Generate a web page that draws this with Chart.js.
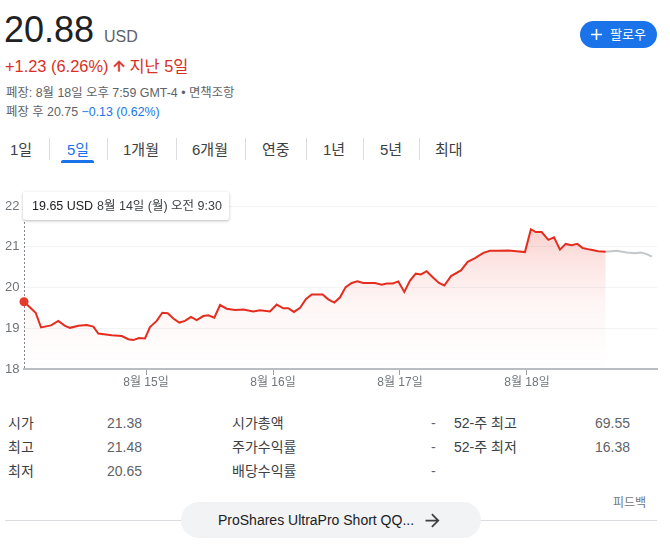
<!DOCTYPE html>
<html>
<head>
    <title>ProShares UltraPro Short QQQ - 5일</title>
    <script src="https://cdn.jsdelivr.net/npm/chart.js"></script>
    <style>
        body {
            margin: 0;
            width: 670px;
            height: 551px;
            position: relative;
            overflow: hidden;
            background: #fff;
            font-family: "Liberation Sans", Arial, "Noto Sans CJK KR", sans-serif;
            color: #202124;
        }
        .abs { position: absolute; white-space: nowrap; }
        .preco { left: 4px; top: 12px; font-size: 36px; line-height: 36px; color: #202124; }
        .moeda { left: 104px; top: 29px; font-size: 16px; line-height: 16px; color: #5f6368; }
        .variacao { left: 5px; top: 58px; font-size: 16.4px; line-height: 16px; color: #d93025; }
        .variacao svg { vertical-align: -2px; margin: 0 2px 0 3px; }
        .info { left: 6px; font-size: 12.4px; line-height: 12px; color: #5f6368; }
        .azul { color: #1a73e8; }
        .seguir {
            left: 580px; top: 21px; width: 77px; height: 27px; border-radius: 14px;
            background: #1a73e8; color: #fff; font-size: 13px; line-height: 27px;
        }
        .seguir svg { position: absolute; left: 7px; top: 4px; }
        .seguir span { position: absolute; left: 30px; top: 0; }
        .aba { top: 142px; font-size: 15px; line-height: 15px; color: #3c4043; }
        .aba.ativa { color: #1a73e8; }
        .sep { top: 138px; width: 1px; height: 22px; background: #dadce0; }
        .sublinhado { left: 61px; top: 160px; width: 33px; height: 3px; border-radius: 2px 2px 0 0; background: #1a73e8; }
        #grafico { position: absolute; left: 0; top: 190px; }
        .dica {
            left: 23px; top: 192px; width: 206px; height: 28px; background: #fff;
            border-radius: 2px; box-shadow: 0 1px 3px rgba(60,64,67,0.35);
            font-size: 12.5px; line-height: 28px;
        }
        .dica b { font-weight: normal; color: #202124; position: absolute; left: 9px; }
        .dica span { color: #3c4043; position: absolute; left: 74px; }
        .tab { font-size: 14px; line-height: 14px; }
        .rot { color: #3c4043; }
        .val { color: #5f6368; }
        .linha { left: 5px; top: 520px; width: 652px; height: 1px; background: #dadce0; }
        .pilula {
            left: 181px; top: 502px; width: 300px; height: 36px; border-radius: 18px;
            background: #f1f3f4; font-size: 14px; line-height: 36px; color: #202124;
        }
        .pilula span { position: absolute; left: 37px; }
        .pilula svg { position: absolute; left: 241px; top: 8px; }
        .feedback { left: 613px; top: 497px; font-size: 12px; line-height: 12px; color: #70757a; }
    </style>
</head>
<body>
    <div class="abs preco">20.88</div>
    <div class="abs moeda">USD</div>
    <div class="abs variacao">+1.23 (6.26%)<svg width="16" height="16" viewBox="0 0 24 24"><path fill="#d93025" stroke="#d93025" stroke-width="1" d="M4 12l1.41 1.41L11 7.83V20h2V7.83l5.58 5.59L20 12l-8-8-8 8z"/></svg>지난 5일</div>
    <div class="abs info" style="top:87px">폐장: 8월 18일 오후 7:59 GMT-4 • 면책조항</div>
    <div class="abs info" style="top:106px">폐장 후 20.75 <span class="azul">−0.13 (0.62%)</span></div>
    <div class="abs seguir"><svg width="19" height="19" viewBox="0 0 24 24"><path fill="#fff" d="M19 13h-6v6h-2v-6H5v-2h6V5h2v6h6v2z"/></svg><span>팔로우</span></div>

    <div class="abs aba" style="left:10px">1일</div>
    <div class="abs sep" style="left:49px"></div>
    <div class="abs aba ativa" style="left:67px">5일</div>
    <div class="abs sep" style="left:107px"></div>
    <div class="abs aba" style="left:123px">1개월</div>
    <div class="abs sep" style="left:176px"></div>
    <div class="abs aba" style="left:192px">6개월</div>
    <div class="abs sep" style="left:245px"></div>
    <div class="abs aba" style="left:262px">연중</div>
    <div class="abs sep" style="left:306px"></div>
    <div class="abs aba" style="left:323px">1년</div>
    <div class="abs sep" style="left:363px"></div>
    <div class="abs aba" style="left:380px">5년</div>
    <div class="abs sep" style="left:419px"></div>
    <div class="abs aba" style="left:435px">최대</div>
    <div class="abs sublinhado"></div>

    <canvas id="grafico" width="670" height="210"></canvas>
    <div class="abs dica"><b>19.65 USD</b><span>8월 14일 (월) 오전 9:30</span></div>

    <div class="abs tab rot" style="left:8px;top:416px">시가</div>
    <div class="abs tab val" style="left:107px;top:416px">21.38</div>
    <div class="abs tab rot" style="left:232px;top:416px">시가총액</div>
    <div class="abs tab val" style="left:431px;top:416px">-</div>
    <div class="abs tab rot" style="left:454px;top:416px">52-주 최고</div>
    <div class="abs tab val" style="right:40px;top:416px">69.55</div>

    <div class="abs tab rot" style="left:8px;top:440px">최고</div>
    <div class="abs tab val" style="left:107px;top:440px">21.48</div>
    <div class="abs tab rot" style="left:232px;top:440px">주가수익률</div>
    <div class="abs tab val" style="left:431px;top:440px">-</div>
    <div class="abs tab rot" style="left:454px;top:440px">52-주 최저</div>
    <div class="abs tab val" style="right:40px;top:440px">16.38</div>

    <div class="abs tab rot" style="left:8px;top:464px">최저</div>
    <div class="abs tab val" style="left:107px;top:464px">20.65</div>
    <div class="abs tab rot" style="left:232px;top:464px">배당수익률</div>
    <div class="abs tab val" style="left:431px;top:464px">-</div>

    <div class="abs feedback">피드백</div>
    <div class="abs linha"></div>
    <div class="abs pilula"><span>ProShares UltraPro Short QQ...</span><svg width="21" height="21" viewBox="0 0 24 24"><path fill="#3c4043" d="M12 4l-1.41 1.41L16.17 11H4v2h12.17l-5.58 5.59L12 20l8-8z"/></svg></div>

    <script>
        // tempo em dias (14.0 = 14 de agosto), preços em USD
        const tempos = [
            14.039, 14.131, 14.173, 14.252, 14.309, 14.362, 14.402, 14.467, 14.533, 14.585,
            14.624, 14.730, 14.809, 14.861, 14.900, 14.945, 14.992, 15.031, 15.084, 15.128,
            15.171, 15.215, 15.262, 15.307, 15.354, 15.399, 15.451, 15.491, 15.538, 15.583,
            15.635, 15.701, 15.766, 15.845, 15.898, 15.976, 16.029, 16.081, 16.120, 16.165,
            16.213, 16.260, 16.305, 16.391, 16.435, 16.483, 16.528, 16.572, 16.620, 16.664,
            16.711, 16.803, 16.856, 16.895, 16.943, 16.987, 17.034, 17.079, 17.124, 17.165,
            17.210, 17.262, 17.307, 17.349, 17.402, 17.480, 17.533, 17.591, 17.656, 17.709,
            17.774, 17.854, 17.919, 17.984, 18.031, 18.069, 18.116, 18.168, 18.213, 18.260,
            18.305, 18.352, 18.396, 18.439, 18.496, 18.561, 18.620
        ];
        const precos = [
            19.65, 19.38, 19.02, 19.07, 19.18, 19.06, 19.01, 19.06, 19.08, 19.04,
            18.87, 18.83, 18.81, 18.73, 18.71, 18.76, 18.75, 19.03, 19.18, 19.38,
            19.37, 19.24, 19.14, 19.18, 19.28, 19.20, 19.30, 19.32, 19.26, 19.57,
            19.48, 19.45, 19.46, 19.41, 19.44, 19.41, 19.58, 19.49, 19.49, 19.40,
            19.50, 19.72, 19.83, 19.83, 19.71, 19.63, 19.76, 20.01, 20.11, 20.15,
            20.11, 20.11, 20.07, 20.10, 20.10, 20.15, 19.89, 20.17, 20.34, 20.32,
            20.40, 20.24, 20.11, 20.05, 20.28, 20.42, 20.63, 20.72, 20.85, 20.90,
            20.90, 20.91, 20.89, 20.87, 21.43, 21.36, 21.36, 21.17, 21.23, 20.93,
            21.07, 21.04, 21.07, 20.97, 20.93, 20.89, 20.88
        ];
        // depois do fechamento (linha cinza)
        const temposApos = [18.620, 18.707, 18.785, 18.845, 18.898, 18.943, 18.983];
        const precosApos = [20.88, 20.90, 20.86, 20.84, 20.86, 20.82, 20.76];

        const diasTicks = [15, 16, 17, 18];
        const diasLabels = ['8월 15일', '8월 16일', '8월 17일', '8월 18일'];
        const precoTicks = [18, 19, 20, 21, 22];

        const fonte = '"Liberation Sans", Arial, "Noto Sans CJK KR", sans-serif';
        Chart.defaults.font.family = fonte;

        const linhaPontilhada = {
            id: 'linhaPontilhada',
            beforeDatasetsDraw(chart) {
                const ctx = chart.ctx;
                const x = Math.round(chart.scales.x.getPixelForValue(tempos[0])) + 0.5;
                ctx.save();
                ctx.strokeStyle = '#80868b';
                ctx.lineWidth = 1;
                ctx.setLineDash([2, 2]);
                ctx.beginPath();
                ctx.moveTo(x, chart.chartArea.top);
                ctx.lineTo(x, chart.chartArea.bottom);
                ctx.stroke();
                ctx.restore();
            }
        };

        const ctx = document.getElementById('grafico').getContext('2d');
        new Chart(ctx, {
            type: 'line',
            data: {
                datasets: [
                    {
                        data: tempos.map((t, i) => ({ x: t, y: precos[i] })),
                        borderColor: '#e52d1f',
                        borderWidth: 2,
                        fill: 'start',
                        backgroundColor: (c) => {
                            const area = c.chart.chartArea;
                            if (!area) return 'rgba(229,45,31,0.1)';
                            const g = c.chart.ctx.createLinearGradient(0, area.top, 0, area.bottom);
                            g.addColorStop(0, 'rgba(229,45,31,0.28)');
                            g.addColorStop(0.35, 'rgba(229,45,31,0.12)');
                            g.addColorStop(0.6, 'rgba(229,45,31,0.045)');
                            g.addColorStop(1, 'rgba(229,45,31,0)');
                            return g;
                        },
                        pointRadius: (c) => c.dataIndex === 0 ? 4.5 : 0,
                        pointBackgroundColor: '#e5392c',
                        pointBorderWidth: 0,
                        tension: 0,
                        clip: false
                    },
                    {
                        data: temposApos.map((t, i) => ({ x: t, y: precosApos[i] })),
                        borderColor: '#c4c7c9',
                        borderWidth: 2,
                        fill: false,
                        pointRadius: 0,
                        tension: 0
                    }
                ]
            },
            options: {
                responsive: false,
                animation: false,
                events: [],
                layout: { padding: { left: 5, right: 13, top: 16, bottom: 0 } },
                plugins: { legend: { display: false }, tooltip: { enabled: false } },
                scales: {
                    x: {
                        type: 'linear',
                        min: 14.039,
                        max: 19.024,
                        afterBuildTicks: (s) => { s.ticks = diasTicks.map(v => ({ value: v })); },
                        afterFit: (s) => { s.height = 31; },
                        ticks: {
                            callback: (v) => diasLabels[diasTicks.indexOf(v)],
                            color: '#70757a',
                            font: { size: 12 },
                            padding: 0,
                            maxRotation: 0,
                            autoSkip: false
                        },
                        grid: { drawOnChartArea: false, drawTicks: true, tickLength: 6, color: '#9aa0a6' },
                        border: { color: '#babdc2', width: 2 }
                    },
                    y: {
                        min: 18,
                        max: 22,
                        afterBuildTicks: (s) => { s.ticks = precoTicks.map(v => ({ value: v })); },
                        afterFit: (s) => { s.width = 19; },
                        ticks: {
                            color: '#70757a',
                            font: { size: 13 },
                            crossAlign: 'far',
                            padding: 0
                        },
                        grid: { drawTicks: false, color: '#f1f3f4' },
                        border: { display: false }
                    }
                }
            },
            plugins: [linhaPontilhada]
        });
    </script>
</body>
</html>
